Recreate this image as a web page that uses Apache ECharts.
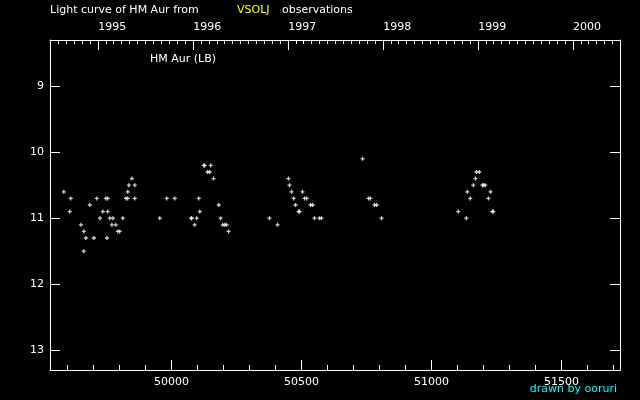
<!DOCTYPE html>
<html>
<head>
<meta charset="utf-8">
<script src="https://cdn.jsdelivr.net/npm/echarts@6/dist/echarts.min.js"></script>
<style>
  html, body { margin: 0; padding: 0; background: #000; }
  #chart { width: 640px; height: 400px; }
</style>
</head>
<body>
<div id="chart"></div>
<script>
// observation dates (JD - 2400000) and visual magnitudes
const jd = [
  49586, 49613, 49609, 49652, 49663, 49663, 49671, 49686, 49702, 49713,
  49725, 49736, 49748, 49752, 49755, 49755, 49763, 49771, 49775, 49786,
  49794, 49801, 49813, 49825, 49832, 49832, 49836, 49848, 49859, 49859,
  49955, 49982, 50013,
  50076, 50078, 50089, 50097, 50105, 50109, 50124, 50128, 50139, 50147,
  50151, 50162, 50182, 50189, 50197, 50205, 50212, 50220, 50377, 50408,
  50450, 50454, 50462, 50470, 50477, 50489, 50493, 50504, 50512, 50520,
  50535, 50543, 50550, 50569, 50577,
  50735, 50758, 50765, 50781, 50789, 50808,
  51103, 51134, 51138, 51149, 51161, 51169, 51173, 51184, 51196, 51200,
  51207, 51219, 51227, 51234, 51238
]
const mag = [
  10.6, 10.7, 10.9, 11.1, 11.2, 11.5, 11.3, 10.8, 11.3, 10.7,
  11.0, 10.9, 10.7, 11.3, 10.7, 10.9, 11.0, 11.1, 11.0, 11.1,
  11.2, 11.2, 11.0, 10.7, 10.7, 10.6, 10.5, 10.4, 10.5, 10.7,
  11.0, 10.7, 10.7,
  11.0, 11.0, 11.1, 11.0, 10.7, 10.9, 10.2, 10.2, 10.3, 10.3,
  10.2, 10.4, 10.8, 11.0, 11.1, 11.1, 11.1, 11.2, 11.0, 11.1,
  10.4, 10.5, 10.6, 10.7, 10.8, 10.9, 10.9, 10.6, 10.7, 10.7,
  10.8, 10.8, 11.0, 11.0, 11.0,
  10.1, 10.7, 10.7, 10.8, 10.8, 11.0,
  10.9, 11.0, 10.6, 10.7, 10.5, 10.4, 10.3, 10.3, 10.5, 10.5,
  10.5, 10.7, 10.6, 10.9, 10.9
]

// axis ticks
const jdTicks = [50000, 50500, 51000, 51500]
const jdMinorTicks = [49600, 49700, 49800, 49900, 50100, 50200, 50300, 50400, 50600, 50700, 50800, 50900, 51100, 51200, 51300, 51400, 51600, 51700]
const years = [1995, 1996, 1997, 1998, 1999, 2000]
const magTicks = [9, 10, 11, 12, 13]

const xMin = 49533
const xMax = 51725

// JD-2400000 of the first day of a month
const toJd = (y, m) => Date.UTC(y, m, 1) / 86400000 + 40587.5
const yearJd = years.map(y => toJd(y, 0))
const monthJd = []
for (let y = 1994; y <= 2000; y++) {
  for (let m = 0; m < 12; m++) {
    const v = toJd(y, m)
    if (v > xMin && v < xMax && m !== 0) monthJd.push(v)
  }
}

const white = '#ffffff'
const font = 'DejaVu Sans'

const chart = echarts.init(document.getElementById('chart'))
chart.setOption({
  backgroundColor: '#000000',
  animation: false,
  grid: { left: 50, top: 40, right: 20, bottom: 30 },
  xAxis: [
    {
      type: 'value', position: 'bottom', min: xMin, max: xMax,
      axisLine: { show: true, lineStyle: { color: white, width: 1 } },
      axisTick: { show: true, inside: true, length: 10, customValues: jdTicks, lineStyle: { color: white } },
      axisLabel: { customValues: jdTicks, color: white, fontFamily: font, fontSize: 11, margin: 7, formatter: v => String(v) },
      splitLine: { show: false }
    },
    {
      type: 'value', position: 'bottom', min: xMin, max: xMax,
      axisLine: { show: false },
      axisTick: { show: true, inside: true, length: 5, customValues: jdMinorTicks, lineStyle: { color: white } },
      axisLabel: { show: false },
      splitLine: { show: false }
    },
    {
      type: 'value', position: 'top', min: xMin, max: xMax,
      axisLine: { show: true, lineStyle: { color: white, width: 1 } },
      axisTick: { show: true, inside: true, length: 10, customValues: yearJd, lineStyle: { color: white } },
      axisLabel: {
        customValues: yearJd, color: white, fontFamily: font, fontSize: 11, margin: 7, align: 'left',
        formatter: v => String(years[yearJd.indexOf(v)])
      },
      splitLine: { show: false }
    },
    {
      type: 'value', position: 'top', min: xMin, max: xMax,
      axisLine: { show: false },
      axisTick: { show: true, inside: true, length: 4, customValues: monthJd, lineStyle: { color: white } },
      axisLabel: { show: false },
      splitLine: { show: false }
    }
  ],
  yAxis: [
    {
      type: 'value', position: 'left', inverse: true, min: 8.3, max: 13.3,
      axisLine: { show: true, lineStyle: { color: white, width: 1 } },
      axisTick: { show: true, inside: true, length: 10, customValues: magTicks, lineStyle: { color: white } },
      axisLabel: { customValues: magTicks, color: white, fontFamily: font, fontSize: 11, margin: 6 },
      splitLine: { show: false }
    },
    {
      type: 'value', position: 'right', inverse: true, min: 8.3, max: 13.3,
      axisLine: { show: true, lineStyle: { color: white, width: 1 } },
      axisTick: { show: true, inside: true, length: 10, customValues: magTicks, lineStyle: { color: white } },
      axisLabel: { show: false },
      splitLine: { show: false }
    }
  ],
  series: [{
    type: 'scatter',
    xAxisIndex: 0,
    yAxisIndex: 0,
    data: jd.map((d, i) => [d, mag[i]]),
    symbol: 'path://M1,0H2V1H3V2H2V3H1V2H0V1H1Z',
    symbolSize: 4,
    itemStyle: { color: white }
  }],
  graphic: [
    { type: 'text', left: 50, top: 5, style: { text: 'Light curve of HM Aur from', fill: white, font: '11px ' + font } },
    { type: 'text', left: 237, top: 5, style: { text: 'VSOLJ', fill: '#ffff00', font: '11px ' + font } },
    { type: 'text', left: 282, top: 5, style: { text: 'observations', fill: white, font: '11px ' + font } },
    { type: 'text', left: 150, top: 54, style: { text: 'HM Aur (LB)', fill: white, font: '11px ' + font } },
    { type: 'text', right: 23, top: 384, style: { text: 'drawn by ooruri', fill: '#00ffff', font: '11px ' + font } }
  ]
})
</script>
</body>
</html>
